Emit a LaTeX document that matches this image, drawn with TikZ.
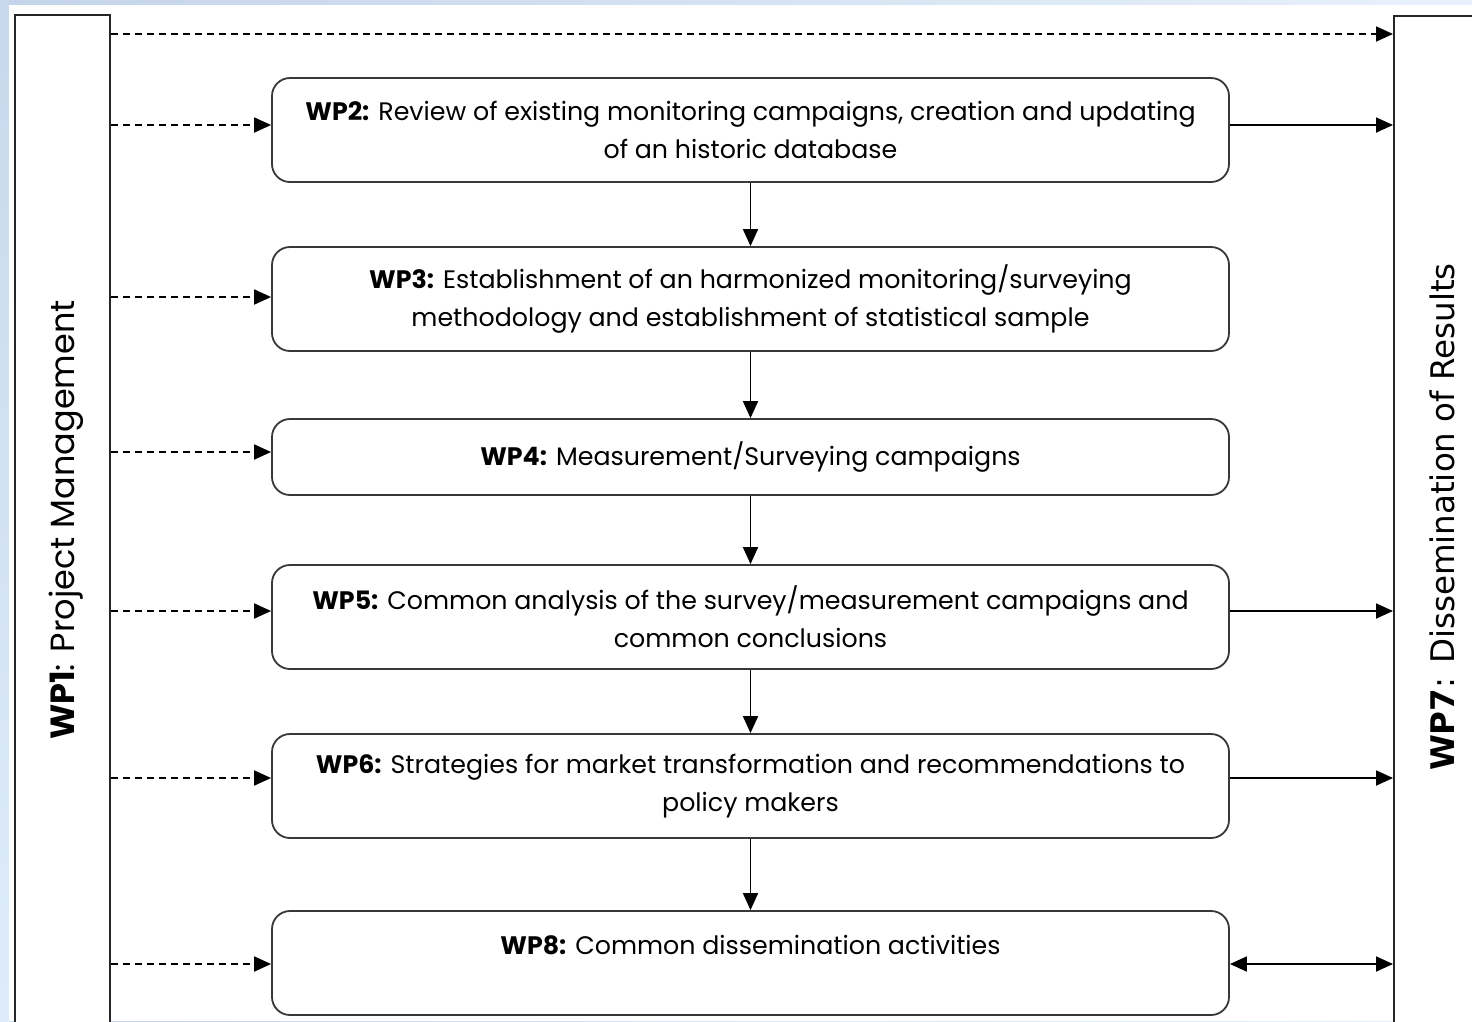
\documentclass[tikz,border=0pt]{standalone}
\usepackage{fontspec}
\setmainfont{Poppins}
\newfontfamily\wpsevenfont{DejaVu Sans}
\usetikzlibrary{arrows.meta,positioning,calc}
\begin{document}
\begin{tikzpicture}[x=1pt,y=-1pt,
  wpbox/.style={draw=black!78,line width=1.8pt,rounded corners=18pt,minimum width=957pt,align=center,font=\fontsize{25.3}{38}\selectfont,text=black},
  sidebox/.style={draw=black!85,line width=1.8pt,fill=white},
  flow/.style={line width=1.8pt,-{Triangle[length=17pt,width=15pt]}},
  dflow/.style={line width=1.8pt,dash pattern=on 7pt off 5pt,-{Triangle[length=17pt,width=15pt]}},
  both/.style={line width=1.8pt,{Triangle[length=17pt,width=15pt]}-{Triangle[length=17pt,width=15pt]}}]
\useasboundingbox (0,0) rectangle (1472,1021);
\clip (0,0) rectangle (1472,1021);
% background
\shade[left color={rgb,255:red,196;green,212;blue,234},right color={rgb,255:red,232;green,241;blue,251}] (0,0) rectangle (1472,1021);
\shade[top color={rgb,255:red,200;green,216;blue,236},bottom color={rgb,255:red,222;green,236;blue,250}] (0,0) rectangle (9,1021);
\fill[white] (9,5) rectangle (1472,1021);
% side boxes
\node[sidebox,minimum width=95pt,minimum height=1040pt,inner sep=0pt] (wp1) at (62.5,535) {};
\node[sidebox,minimum width=100pt,minimum height=1040pt,inner sep=0pt,anchor=north west] (wp7) at (1393,15) {};
\node[rotate=90,font=\fontsize{33.5}{40}\selectfont] (wp1lab) at (66,520) {\textbf{WP1}: Project Management};
\node[rotate=90,font=\wpsevenfont\fontsize{32.5}{40}\selectfont] (wp7lab) at (1442,517) {\textbf{WP7}: Dissemination of Results};
% work package boxes
\node[wpbox,minimum height=104pt] (wp2) at (750.5,130) {\textbf{WP2:} Review of existing monitoring campaigns, creation and updating\\of an historic database};
\node[wpbox,minimum height=104pt] (wp3) at (750.5,299) {\textbf{WP3:} Establishment of an harmonized monitoring/surveying\\methodology and establishment of statistical sample};
\node[wpbox,minimum height=76pt] (wp4) at (750.5,457) {\textbf{WP4:} Measurement/Surveying campaigns};
\node[wpbox,minimum height=104pt] (wp5) at (750.5,617) {\textbf{WP5:} Common analysis of the survey/measurement campaigns and\\common conclusions};
\node[wpbox,minimum height=104pt] (wp6) at (750.5,786) {\textbf{WP6:} Strategies for market transformation and recommendations to\\policy makers};
\node[wpbox,minimum height=104pt,text depth=36pt] (wp8) at (750.5,963) {\textbf{WP8:} Common dissemination activities};
% vertical flow
\draw[flow] (wp2) -- (wp3);
\draw[flow] (wp3) -- (wp4);
\draw[flow] (wp4) -- (wp5);
\draw[flow] (wp5) -- (wp6);
\draw[flow] (wp6) -- (wp8);
% management dashed arrows
\coordinate (topy) at (0,34);
\draw[dflow] (topy -| wp1.east) -- (topy -| wp7.west);
\foreach \b/\d in {wp2/-5,wp3/-2,wp4/-5,wp5/-6,wp6/-8,wp8/1}
  \draw[dflow] ($(wp1.east |- \b.west)+(0,\d)$) -- ($(\b.west)+(0,\d)$);
% dissemination arrows
\foreach \b/\d in {wp2/-5,wp5/-6,wp6/-8}
  \draw[flow] ($(\b.east)+(0,\d)$) -- ($(\b.east -| wp7.west)+(0,\d)$);
\draw[both] ($(wp8.east)+(0,1)$) -- ($(wp8.east -| wp7.west)+(0,1)$);
\end{tikzpicture}
\end{document}
